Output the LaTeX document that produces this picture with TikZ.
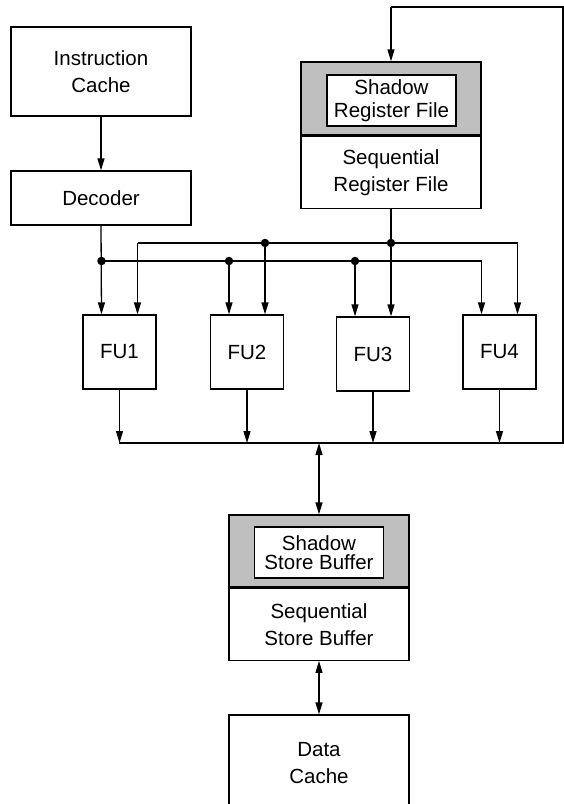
\documentclass[tikz,border=0pt]{standalone}
\usepackage{fontspec}
\setmainfont{Liberation Sans}
\usetikzlibrary{
    positioning,
    arrows.meta
}

\begin{document}
\begin{tikzpicture}[
      x=1pt, y=-1pt,
      line width=1.3pt,
      % Define styles for the elements
      base/.style={
          rectangle,
          draw,
          line width=1.3pt,
          align=center,
          inner sep=0pt,
          font=\fontsize{20.5}{27}\selectfont
        },
      unit/.style={
          base,
          minimum width=73pt,
          minimum height=74pt
        },
      wide/.style={
          base,
          minimum width=180pt
        },
      shadow/.style={
          wide,
          fill=black!25,
          minimum height=72pt
        },
      innerbox/.style={
          base,
          fill=white,
          minimum width=129pt,
          minimum height=51pt
        },
      dot/.style={
          circle,
          fill,
          inner sep=0pt,
          minimum size=8.5pt
        },
      arrow/.style={
          -{Triangle[length=12pt,width=7pt]} % Arrow tip style
        },
      both/.style={
          {Triangle[length=12pt,width=7pt]}-{Triangle[length=12pt,width=7pt]}
        }
    ]

    \useasboundingbox (0,0) rectangle (564,804);
    \clip (0,0) rectangle (564,804);

    % Place the nodes
    \node[wide, minimum height=89pt] (icache) at (101,71.5) {Instruction\\Cache};
    \node[wide, minimum height=54pt] (dec) at (101,198) {Decoder};

    \node[shadow, minimum height=73pt] (rfshadow) at (391,98.5) {};
    \node[innerbox, font=\fontsize{20.5}{23}\selectfont] (rfshadowin) at (391.5,100.5) {Shadow\\Register File};
    \node[wide, minimum height=72pt, anchor=north] (rfseq) at (rfshadow.south) {Sequential\\Register File};

    \node[unit] (fu1) at (119.5,352) {FU1};
    \node[unit] (fu2) at (247,352) {FU2};
    \node[unit] (fu3) at (373,354) {FU3};
    \node[unit] (fu4) at (499.5,352) {FU4};

    \node[shadow] (sbshadow) at (319,551) {};
    \node[innerbox, font=\fontsize{20.5}{19}\selectfont] (sbshadowin) at (319,552.5) {Shadow\\Store Buffer};
    \node[wide, minimum height=72pt, anchor=north] (sbseq) at (sbshadow.south) {Sequential\\Store Buffer};

    \node[wide, minimum height=96pt] (dcache) at (319,763) {Data\\Cache};

    % Bus levels and inputs of the units
    \coordinate (lowbus) at (0,261);
    \coordinate (upbus) at (0,243);
    \coordinate (busL) at (119,443);
    \coordinate (busR) at (563,443);
    \coordinate (back) at (563,7);
    \foreach \f in {fu1,fu2,fu3,fu4} {
        \coordinate (\f a) at ([xshift=-18pt]\f.north);
        \coordinate (\f b) at ([xshift=18pt]\f.north);
    }

    % Draw the arrows connecting the nodes
    \draw[arrow] (icache) -- (dec);
    \draw[arrow] (dec.south) -- (fu1a);
    \draw[arrow] (fu1a |- lowbus) -- (fu4a |- lowbus) -- (fu4a);
    \draw[arrow] (fu2a |- lowbus) -- (fu2a);
    \draw[arrow] (fu3a |- lowbus) -- (fu3a);
    \draw[arrow] (fu1b |- upbus) -- (fu1b);
    \draw (fu1b |- upbus) -- (fu4b |- upbus);
    \draw[arrow] (fu4b |- upbus) -- (fu4b);
    \draw[arrow] (fu2b |- upbus) -- (fu2b);
    \draw[arrow] (rfseq.south) -- (fu3b);

    % Junction dots
    \node[dot] (j1) at (fu1a |- lowbus) {};
    \node[dot] (j2) at (fu2a |- lowbus) {};
    \node[dot] (j3) at (fu3a |- lowbus) {};
    \node[dot] (j4) at (fu2b |- upbus) {};
    \node[dot] (j5) at (fu3b |- upbus) {};

    % Results back to the register file
    \foreach \f in {fu1,fu2,fu3,fu4}
        \draw[arrow] (\f.south) -- (\f.south |- busL);
    \draw (busL) -- (busR) -- (back) -- (rfshadow.north |- back);
    \draw[arrow] (rfshadow.north |- back) -- (rfshadow.north);

    % Store buffer and data cache
    \draw[both] (sbshadow.north |- busL) -- (sbshadow.north);
    \draw[both] (sbseq.south) -- (dcache.north);

  \end{tikzpicture}
\end{document}
